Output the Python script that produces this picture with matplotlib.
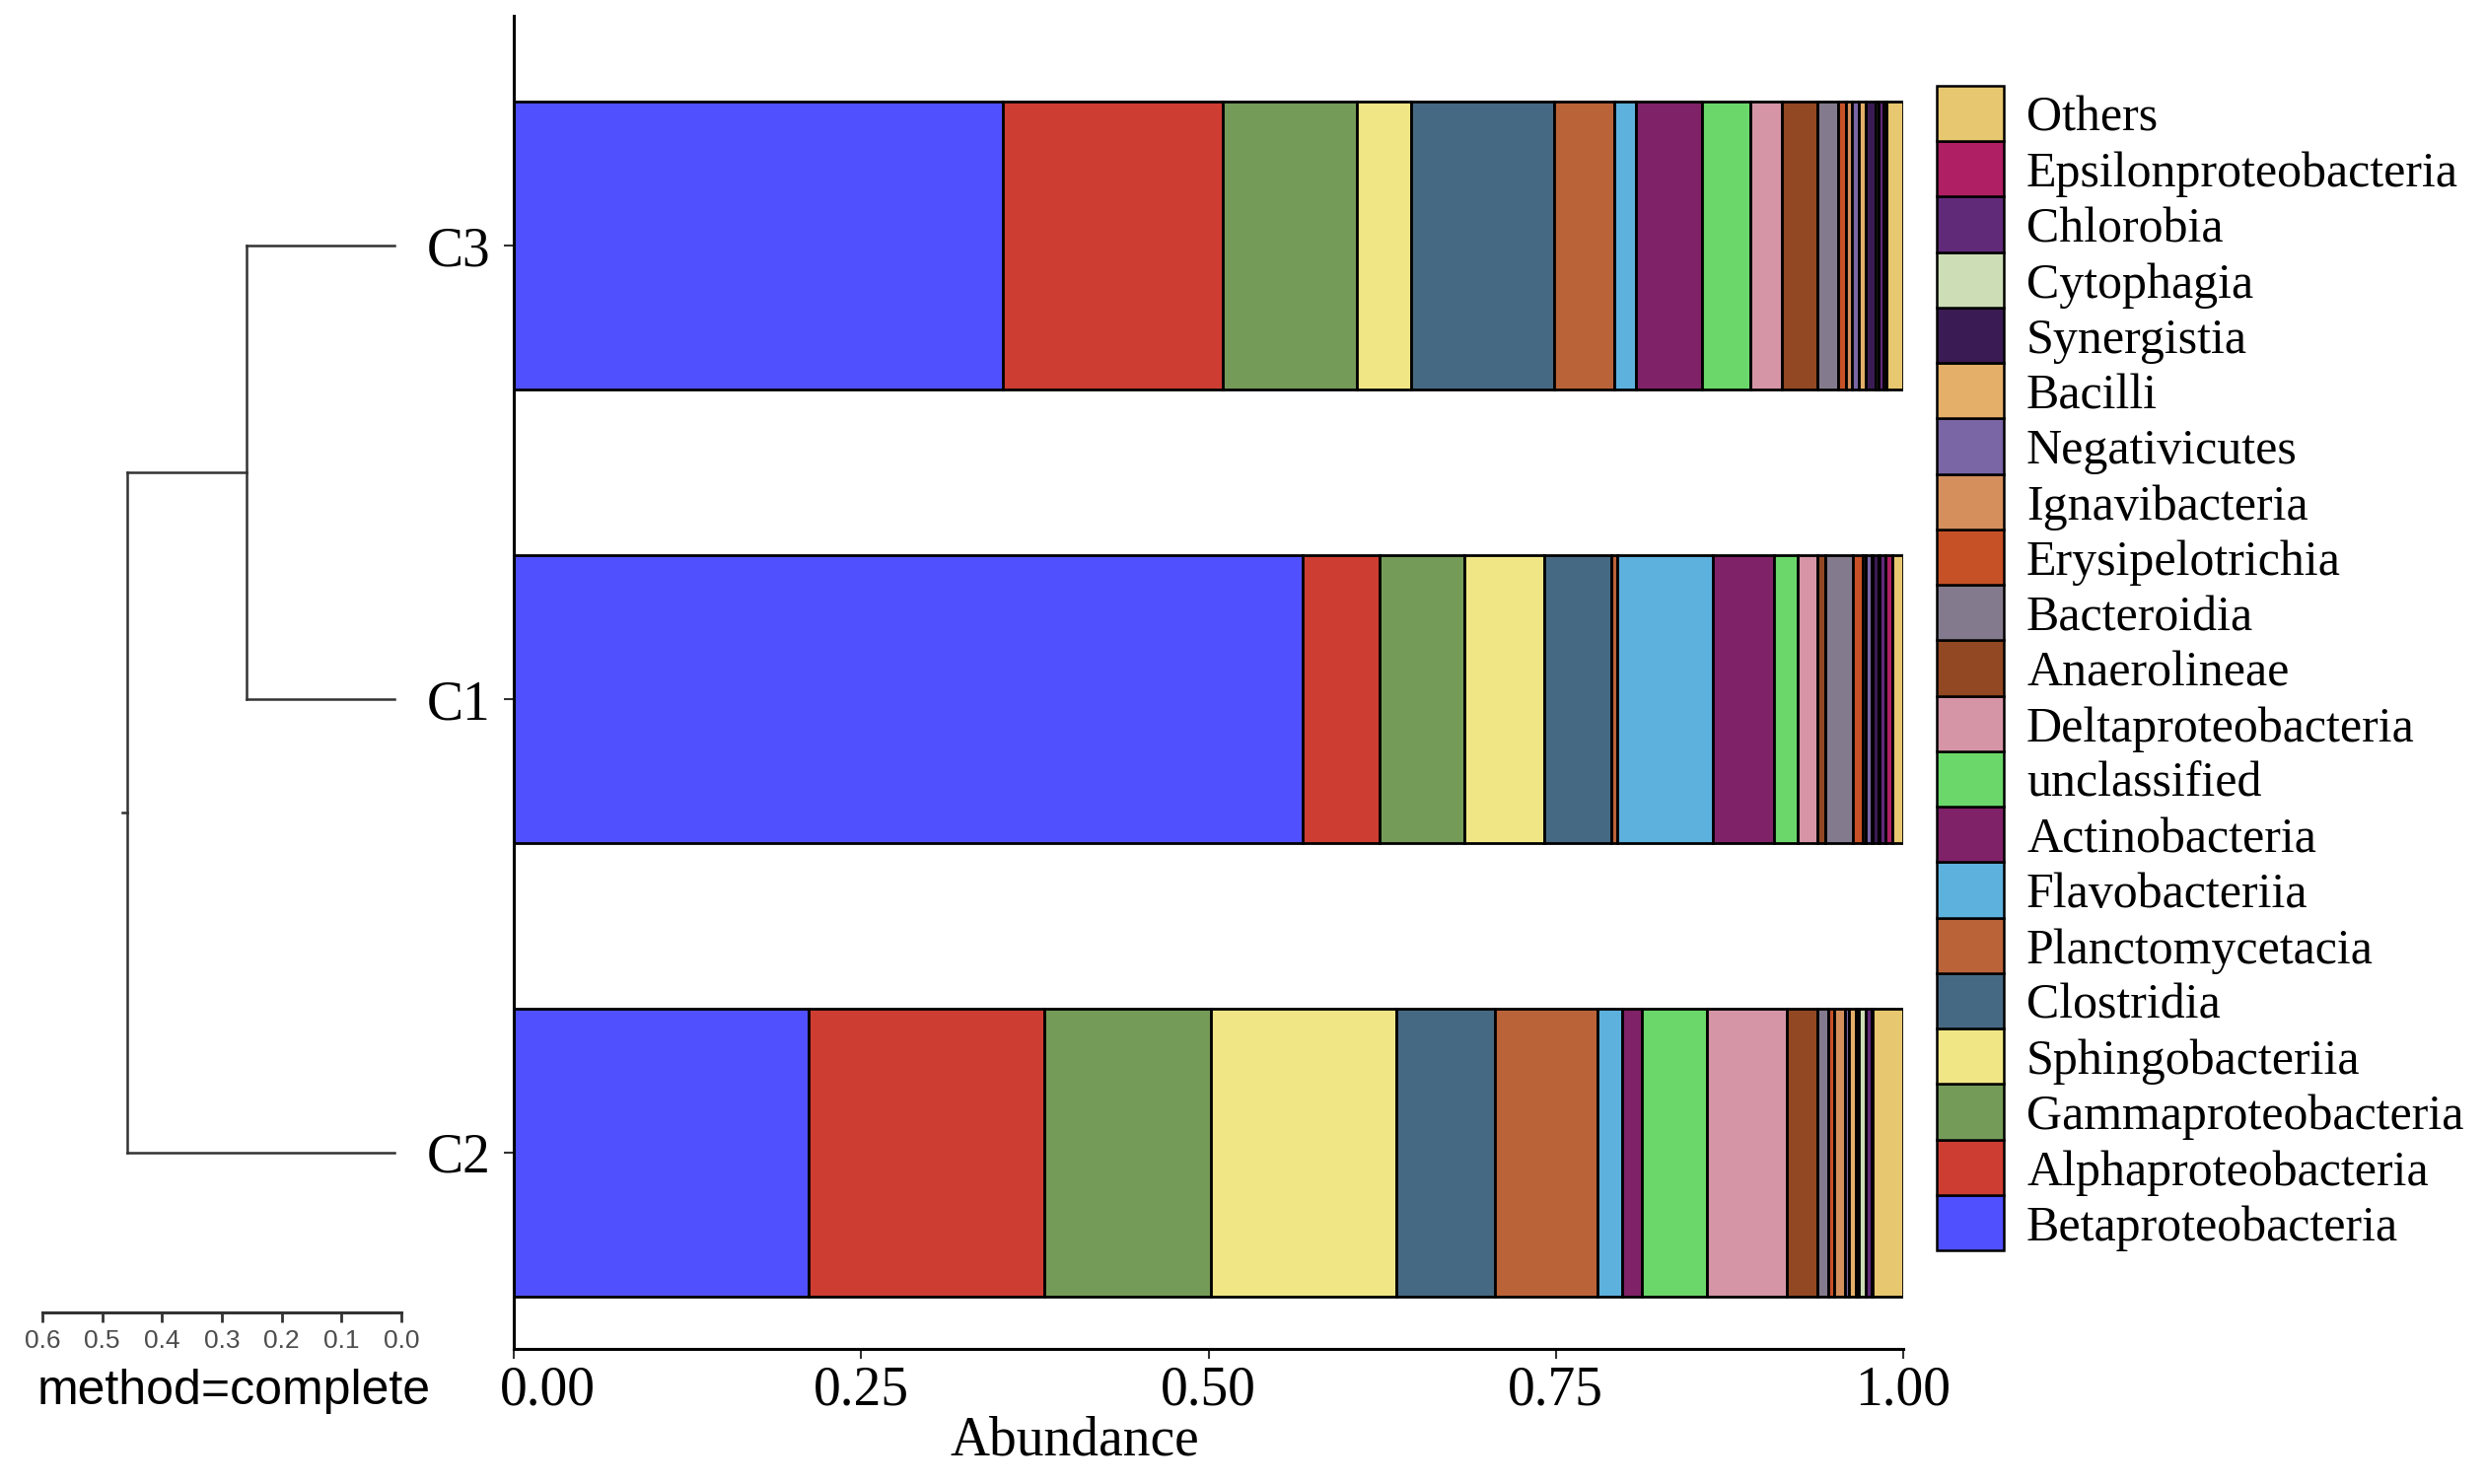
import numpy as np
import matplotlib
matplotlib.use("Agg")
import matplotlib.pyplot as plt
from matplotlib.patches import Rectangle
from matplotlib.transforms import ScaledTranslation

# stacking order, left to right
taxa = ['Betaproteobacteria', 'Alphaproteobacteria', 'Gammaproteobacteria',
        'Sphingobacteriia', 'Clostridia', 'Planctomycetacia', 'Flavobacteriia',
        'Actinobacteria', 'unclassified', 'Deltaproteobacteria', 'Anaerolineae',
        'Bacteroidia', 'Erysipelotrichia', 'Ignavibacteria', 'Negativicutes',
        'Bacilli', 'Synergistia', 'Cytophagia', 'Chlorobia',
        'Epsilonproteobacteria', 'Others']

colors = ['#5050FF', '#CE3D32', '#749B58', '#F0E685', '#466983', '#BA6338',
          '#5DB1DD', '#802268', '#6BD76B', '#D595A7', '#924822', '#837B8D',
          '#C75127', '#D58F5C', '#7A65A5', '#E4AF69', '#3B1B53', '#CDDEB7',
          '#612A79', '#AE1F63', '#E7C76F']

# samples from bottom to top
samples = ['C2', 'C1', 'C3']

c2 = [0.212, 0.170, 0.120, 0.133, 0.071, 0.074, 0.018, 0.014, 0.047, 0.057, 0.022,
      0.008, 0.004, 0.008, 0.003, 0.005, 0.002, 0.005, 0.004, 0.001, 0.022]
c1 = [0.568, 0.055, 0.061, 0.058, 0.048, 0.004, 0.069, 0.044, 0.017, 0.014, 0.006,
      0.020, 0.007, 0.002, 0.004, 0.001, 0.004, 0.001, 0.004, 0.005, 0.008]
c3 = [0.352, 0.158, 0.097, 0.039, 0.103, 0.043, 0.016, 0.047, 0.035, 0.023, 0.025,
      0.015, 0.006, 0.004, 0.005, 0.005, 0.007, 0.002, 0.004, 0.002, 0.012]

# hierarchical clustering (complete linkage) heights
merge_c3_c1 = 0.259
merge_root = 0.459

xticks = [0.00, 0.25, 0.50, 0.75, 1.00]
dendro_ticks = [0.6, 0.5, 0.4, 0.3, 0.2, 0.1, 0.0]

serif = 'Liberation Serif'
sans = 'Liberation Sans'

W, H = 2520, 1505
fig = plt.figure(figsize=(W / 100, H / 100), dpi=100)

def fx(px):
    return px / W

def fy(py):
    return 1 - py / H

# ---- stacked bars
ax_left, ax_right, ax_top, ax_bot = 521, 1930, 16, 1368
ax = fig.add_axes([fx(ax_left), fy(ax_bot), fx(ax_right - ax_left), (ax_bot - ax_top) / H])
ypos = np.arange(1, len(samples) + 1)
data = np.array([c2, c1, c3])
left = np.zeros(len(samples))
for j, name in enumerate(taxa):
    ax.barh(ypos, data[:, j], left=left, height=0.635, color=colors[j],
            edgecolor='black', linewidth=2.0, label=name)
    left += data[:, j]

ax.set_xlim(0, 1)
ax.set_ylim(0.567, 3.507)
ax.set_yticks(ypos)
ax.set_yticklabels(samples, fontfamily=serif, fontsize=40)
ax.set_xticks(xticks)
ax.set_xticklabels(['%.2f' % v for v in xticks], fontfamily=serif, fontsize=40)
ax.tick_params(axis='both', length=7, width=1.5, color='#333333')
ax.tick_params(axis='y', pad=10)
ax.tick_params(axis='x', pad=5)
for s in ['top', 'right']:
    ax.spines[s].set_visible(False)
ax.spines['left'].set_linewidth(2.2)
ax.spines['bottom'].set_linewidth(2.2)
# first tick label sits a bit to the right in the original
lbl0 = ax.get_xticklabels()[0]
lbl0.set_transform(lbl0.get_transform() + ScaledTranslation(0.34, 0, fig.dpi_scale_trans))

fig.text(fx(1090), fy(1462), 'Abundance', fontfamily=serif, fontsize=40,
         ha='center', va='center')

# ---- dendrogram
d_left, d_right = 43, 407
dax = fig.add_axes([fx(d_left), fy(ax_bot), fx(d_right - d_left), (ax_bot - ax_top) / H])
dax.set_xlim(0.6, 0.0)
dax.set_ylim(0.567, 3.507)
dax.axis('off')
lc = '#333333'
lw = 1.8
leaf_end = 0.012
y3, y1, y2 = 3, 2, 1
dax.plot([merge_c3_c1, leaf_end], [y3, y3], color=lc, lw=lw)
dax.plot([merge_c3_c1, leaf_end], [y1, y1], color=lc, lw=lw)
dax.plot([merge_c3_c1, merge_c3_c1], [y1, y3], color=lc, lw=lw)
ymid = (y1 + y3) / 2
dax.plot([merge_root, merge_c3_c1], [ymid, ymid], color=lc, lw=lw)
dax.plot([merge_root, leaf_end], [y2, y2], color=lc, lw=lw)
dax.plot([merge_root, merge_root], [y2, ymid], color=lc, lw=lw)
dax.plot([merge_root + 0.008, merge_root], [(y2 + ymid) / 2] * 2, color=lc, lw=lw)

# dendrogram scale
sax = fig.add_axes([fx(d_left), fy(1331), fx(d_right - d_left), 0.0005])
sax.set_xlim(0.6, 0.0)
sax.set_yticks([])
for s in ['top', 'right', 'left']:
    sax.spines[s].set_visible(False)
sax.spines['bottom'].set_linewidth(2.2)
sax.spines['bottom'].set_color('#333333')
sax.set_xticks(dendro_ticks)
sax.set_xticklabels(['%.1f' % v for v in dendro_ticks], fontfamily=sans,
                    fontsize=19, color='#4D4D4D')
sax.tick_params(axis='x', length=7, width=2, color='#333333', pad=5)
sax.patch.set_visible(False)

fig.text(fx(237), fy(1411), 'method=complete', fontfamily=sans, fontsize=36,
         ha='center', va='center')

# ---- legend (reversed order, Others on top)
l_left, l_right, l_top, l_bot = 1964, 2032, 87, 1268
lax = fig.add_axes([fx(l_left), fy(l_bot), fx(l_right - l_left), (l_bot - l_top) / H])
lax.set_xlim(0, 1)
lax.set_ylim(0, len(taxa))
lax.axis('off')
for j, name in enumerate(taxa):
    lax.add_patch(Rectangle((0, j), 1, 1, facecolor=colors[j], edgecolor='black',
                            linewidth=1.8, clip_on=False))
    lax.text(1 + 23 / (l_right - l_left), j + 0.4, name, fontfamily=serif,
             fontsize=36, va='center', ha='left', clip_on=False)

fig.savefig('out.png', dpi=100)
